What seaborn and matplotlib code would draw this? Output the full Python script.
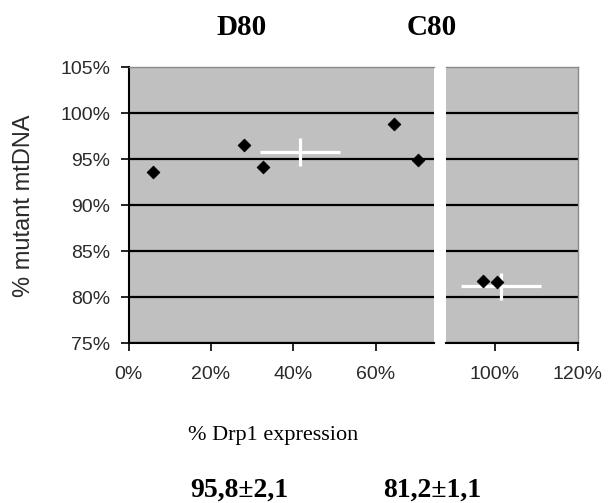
import matplotlib
matplotlib.use("Agg")
import matplotlib.pyplot as plt
import seaborn as sns
import pandas as pd
from matplotlib.ticker import PercentFormatter

# individual clones: Drp1 expression (%) and mutant mtDNA load (%)
d80_expr = [5.9, 28.1, 32.7, 64.4, 70.3]
d80_mut = [93.6, 96.6, 94.2, 98.8, 94.9]
c80_expr = [97.1, 100.5]
c80_mut = [81.8, 81.7]

# group summaries
groups = ["D80", "C80"]
mean_expr = [41.5, 101.5]
sd_expr = [9.7, 9.6]
mean_mut = [95.8, 81.2]
sd_mut = [2.1, 1.1]
bar_mut = [1.5, 1.45]

# axis settings
y_ticks = [75, 80, 85, 90, 95, 100, 105]
left_xticks = [0, 20, 40, 60]
right_xticks = [100, 120]

W, H = 610, 503
fig = plt.figure(figsize=(W / 100, H / 100), dpi=100)
fig.patch.set_facecolor("white")


def box(x0, y0, x1, y1):
    return [x0 / W, 1 - y1 / H, (x1 - x0) / W, (y1 - y0) / H]


ax_l = fig.add_axes(box(128.5, 67.3, 433.5, 343.3))
ax_r = fig.add_axes(box(446, 67.3, 577.5, 343.3))

label_color = "#2a2a2a"
tick_size = 14

frames = [
    pd.DataFrame({"expr": d80_expr, "mut": d80_mut}),
    pd.DataFrame({"expr": c80_expr, "mut": c80_mut}),
]

for i, (ax, df) in enumerate(zip([ax_l, ax_r], frames)):
    ax.set_facecolor("#c0c0c0")
    ax.set_ylim(75, 105)
    ax.set_yticks(y_ticks)
    ax.yaxis.set_major_formatter(PercentFormatter(decimals=0))
    ax.xaxis.set_major_formatter(PercentFormatter(decimals=0))
    ax.grid(axis="y", color="black", linewidth=1.6, zorder=1)
    ax.grid(axis="x", visible=False)
    ax.get_ygridlines()[-1].set_visible(False)
    ax.set_axisbelow(True)

    ax.errorbar(mean_expr[i], mean_mut[i], xerr=sd_expr[i], yerr=bar_mut[i],
                fmt="none", ecolor="white", elinewidth=2.3, capsize=0,
                zorder=2.5)
    sns.scatterplot(data=df, x="expr", y="mut", ax=ax, marker="D", s=42,
                    color="black", edgecolor="black", linewidth=0.6,
                    zorder=3, legend=False)
    ax.set_xlabel("")
    ax.set_ylabel("")
    ax.spines["top"].set_color("#8a8a8a")
    ax.spines["top"].set_linewidth(1.0)
    ax.spines["bottom"].set_color("black")
    ax.spines["bottom"].set_linewidth(1.5)
    ax.tick_params(axis="x", direction="out", length=6, width=1.2,
                   color="black", pad=10, labelsize=tick_size,
                   labelcolor=label_color)

ax_l.set_xlim(0, 74.0)
ax_l.set_xticks(left_xticks)
ax_l.spines["left"].set_color("black")
ax_l.spines["left"].set_linewidth(1.5)
ax_l.spines["right"].set_visible(False)
ax_l.tick_params(axis="y", direction="out", length=6, width=1.2, color="black",
                 pad=7, labelsize=tick_size, labelcolor=label_color)
ax_l.set_ylabel("% mutant mtDNA", fontfamily="Liberation Sans", fontsize=17,
                color=label_color, labelpad=18)

ax_r.set_xlim(88.3, 120)
ax_r.set_xticks(right_xticks)
ax_r.spines["left"].set_visible(False)
ax_r.spines["right"].set_color("#8a8a8a")
ax_r.spines["right"].set_linewidth(1.0)
ax_r.tick_params(axis="y", length=0, labelleft=False)

for ax in (ax_l, ax_r):
    for lab in ax.get_xticklabels() + ax.get_yticklabels():
        lab.set_family("Liberation Sans")

serif_bold = dict(family="Liberation Serif", weight="bold",
                  color="black", ha="center", va="baseline")
title_x = [241.5, 432]
for g, tx in zip(groups, title_x):
    fig.text(tx / W, 1 - 35 / H, g, size=21, **serif_bold)

fig.text(273 / W, 1 - 440 / H, "% Drp1 expression", family="Liberation Serif",
         size=16, color="black", ha="center", va="baseline")

summary_x = [239, 432.5]
for m, s, sx in zip(mean_mut, sd_mut, summary_x):
    txt = f"{m:.1f}±{s:.1f}".replace(".", ",")
    fig.text(sx / W, 1 - 497 / H, txt, size=20, **serif_bold)

fig.savefig("out.png", dpi=100, facecolor="white")
